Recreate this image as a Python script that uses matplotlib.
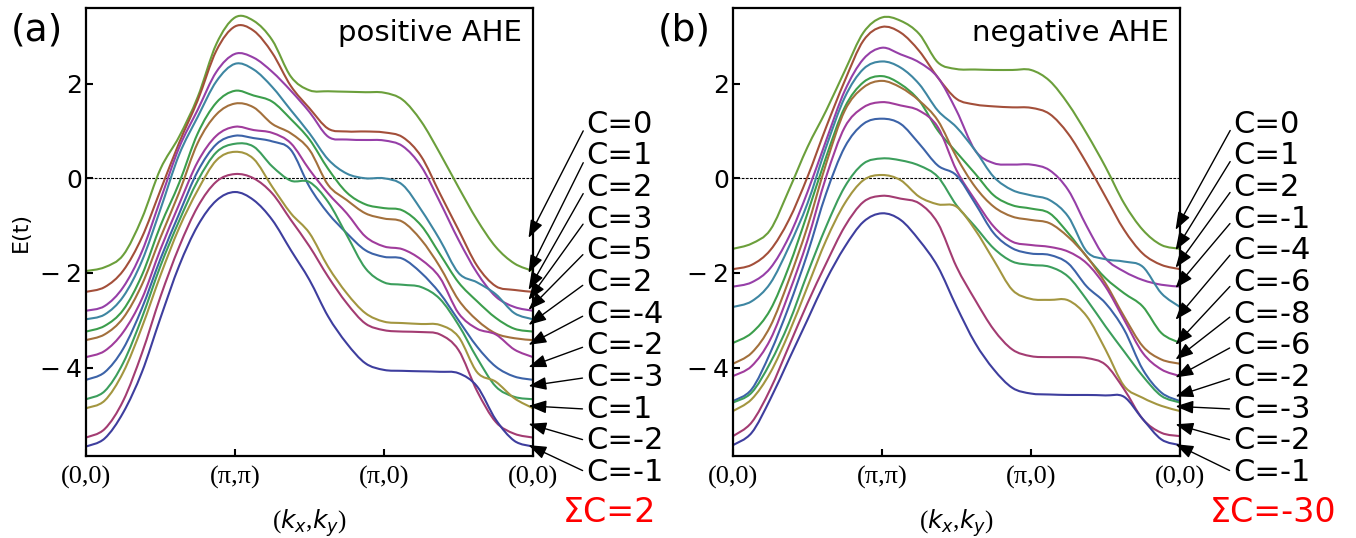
import matplotlib
matplotlib.use("Agg")
import matplotlib.pyplot as plt
from matplotlib.patches import PathPatch
from matplotlib.path import Path

# k-path sample points: (0,0) -> (pi,pi) -> (pi,0) -> (0,0), one unit per segment
K_GRID = [0.0, 0.125, 0.25, 0.375, 0.5, 0.625, 0.75, 0.875,
          1.0, 1.125, 1.25, 1.375, 1.5, 1.625, 1.75, 1.875,
          2.0, 2.125, 2.25, 2.375, 2.5, 2.625, 2.75, 2.875, 3.0]
K_TICKS = [0, 1, 2, 3]
K_LABELS = ["(0,0)", "(\u03c0,\u03c0)", "(\u03c0,0)", "(0,0)"]
E_TICKS = [-4, -2, 0, 2]
E_LABELS = ["\u2212\u20094", "\u2212\u20092", "0", "2"]

BAND_COLORS = ["#6b9f3b", "#a34f3a", "#963fa8", "#3e86a2", "#3c9e4c", "#a3703c",
               "#a03c9c", "#3c63a8", "#3c9e5c", "#a39640", "#a33c72", "#3e3e9e"]

# band energies (units of t), top band first
BANDS_POS = [
    [-1.96, -1.88, -1.62, -0.85, 0.20, 0.88, 1.72, 2.84, 3.40, 3.33, 2.92, 2.15, 1.86,
     1.84, 1.83, 1.82, 1.81, 1.66, 1.20, 0.53, -0.19, -0.88, -1.45, -1.80, -1.96],
    [-2.40, -2.30, -1.95, -1.25, -0.25, 0.75, 1.65, 2.70, 3.21, 3.12, 2.65, 1.95, 1.48,
     1.05, 0.99, 0.99, 0.97, 0.87, 0.46, -0.32, -1.09, -1.85, -2.28, -2.36, -2.40],
    [-2.80, -2.70, -2.30, -1.55, -0.45, 0.65, 1.45, 2.25, 2.63, 2.55, 2.25, 1.85, 1.40,
     0.88, 0.82, 0.81, 0.80, 0.68, 0.25, -0.50, -1.30, -2.00, -2.50, -2.72, -2.80],
    [-2.98, -2.88, -2.50, -1.75, -0.65, 0.50, 1.30, 2.05, 2.42, 2.30, 1.93, 1.44, 0.95,
     0.40, 0.10, 0.00, 0.00, -0.14, -0.67, -1.30, -2.00, -2.20, -2.45, -2.85, -2.98],
    [-3.24, -3.12, -2.78, -2.05, -1.00, -0.10, 0.95, 1.60, 1.85, 1.75, 1.62, 1.25, 0.82,
     0.20, -0.30, -0.55, -0.63, -0.68, -1.00, -1.60, -2.20, -2.60, -2.95, -3.18, -3.24],
    [-3.42, -3.30, -2.95, -2.25, -1.25, -0.30, 0.75, 1.35, 1.58, 1.50, 1.15, 0.95, 0.60,
     -0.14, -0.46, -0.74, -0.85, -0.92, -1.30, -1.87, -2.57, -3.00, -3.28, -3.38, -3.42],
    [-3.78, -3.65, -3.25, -2.55, -1.50, -0.55, 0.35, 0.90, 1.09, 1.02, 0.96, 0.74, 0.18,
     -0.32, -0.74, -1.23, -1.44, -1.50, -1.72, -2.10, -2.85, -3.18, -3.30, -3.62, -3.78],
    [-4.26, -4.10, -3.60, -2.75, -1.70, -0.75, 0.15, 0.72, 0.90, 0.85, 0.78, 0.60, -0.18,
     -0.74, -1.16, -1.52, -1.66, -1.70, -2.00, -2.43, -3.00, -3.56, -3.98, -4.19, -4.26],
    [-4.67, -4.50, -3.90, -2.95, -1.85, -0.90, -0.05, 0.55, 0.73, 0.67, 0.25, -0.05, -0.08,
     -0.50, -1.20, -1.90, -2.20, -2.25, -2.30, -2.55, -3.10, -3.80, -4.40, -4.62, -4.67],
    [-4.86, -4.70, -4.10, -3.15, -2.05, -1.05, -0.25, 0.38, 0.56, 0.41, -0.18, -0.74, -1.16,
     -1.87, -2.43, -2.85, -3.03, -3.06, -3.08, -3.10, -3.35, -4.10, -4.30, -4.65, -4.86],
    [-5.48, -5.30, -4.70, -3.70, -2.50, -1.45, -0.60, -0.07, 0.09, 0.00, -0.32, -0.88, -1.44,
     -2.08, -2.64, -3.07, -3.21, -3.24, -3.25, -3.30, -3.63, -4.50, -5.15, -5.40, -5.48],
    [-5.67, -5.50, -4.95, -4.10, -2.95, -1.85, -1.00, -0.47, -0.29, -0.46, -0.88, -1.52, -2.15,
     -2.92, -3.49, -3.91, -4.05, -4.07, -4.08, -4.09, -4.12, -4.40, -5.10, -5.55, -5.67],
]

BANDS_NEG = [
    [-1.49, -1.38, -1.09, -0.25, 0.66, 1.43, 2.27, 3.08, 3.40, 3.33, 3.05, 2.45, 2.31,
     2.30, 2.29, 2.29, 2.29, 2.06, 1.57, 0.94, 0.24, -0.53, -1.09, -1.41, -1.49],
    [-1.92, -1.83, -1.52, -0.88, 0.03, 1.08, 2.06, 2.91, 3.20, 3.08, 2.69, 2.13, 1.68,
     1.56, 1.52, 1.50, 1.49, 1.36, 0.94, 0.31, -0.39, -1.09, -1.59, -1.83, -1.92],
    [-2.29, -2.20, -1.90, -1.24, -0.29, 0.80, 1.85, 2.52, 2.76, 2.62, 2.45, 2.13, 1.43,
     0.59, 0.32, 0.29, 0.29, 0.17, -0.25, -1.02, -1.69, -1.97, -2.15, -2.25, -2.29],
    [-2.72, -2.60, -2.22, -1.45, -0.53, 0.66, 1.71, 2.31, 2.47, 2.34, 1.99, 1.43, 1.08,
     0.59, 0.03, -0.25, -0.36, -0.46, -0.81, -1.55, -1.71, -1.76, -1.87, -2.43, -2.72],
    [-3.48, -3.27, -2.78, -1.87, -0.74, 0.45, 1.50, 2.03, 2.16, 1.99, 1.64, 1.01, 0.55,
     0.10, -0.36, -0.57, -0.64, -0.74, -1.16, -1.66, -2.11, -2.43, -2.71, -3.27, -3.48],
    [-3.92, -3.69, -3.13, -2.15, -1.02, 0.31, 1.43, 1.92, 2.06, 1.92, 1.64, 1.22, 0.45,
     -0.18, -0.60, -0.81, -0.88, -0.95, -1.24, -1.66, -2.22, -2.92, -3.55, -3.83, -3.92],
    [-4.18, -3.97, -3.41, -2.43, -1.31, 0.03, 1.08, 1.50, 1.61, 1.54, 1.43, 1.08, 0.17,
     -0.46, -1.02, -1.34, -1.41, -1.45, -1.55, -1.80, -2.29, -2.99, -3.69, -4.04, -4.18],
    [-4.71, -4.46, -3.69, -2.71, -1.59, -0.32, 0.66, 1.15, 1.26, 1.15, 0.73, 0.27, 0.06,
     -0.53, -1.16, -1.48, -1.59, -1.62, -1.80, -2.29, -2.64, -3.20, -4.04, -4.53, -4.71],
    [-4.74, -4.53, -3.90, -3.06, -2.01, -1.02, -0.18, 0.31, 0.42, 0.38, 0.27, 0.03, -0.57,
     -1.02, -1.48, -1.76, -1.83, -1.87, -2.08, -2.57, -3.13, -3.66, -4.18, -4.60, -4.74],
    [-4.92, -4.67, -4.11, -3.27, -2.29, -1.31, -0.53, -0.04, 0.07, -0.04, -0.39, -0.55, -0.60,
     -1.09, -1.73, -2.36, -2.55, -2.57, -2.58, -2.92, -3.62, -4.39, -4.64, -4.81, -4.92],
    [-5.45, -5.16, -4.46, -3.55, -2.64, -1.80, -1.02, -0.50, -0.37, -0.43, -0.53, -0.95, -1.87,
     -2.57, -3.20, -3.62, -3.76, -3.78, -3.78, -3.80, -3.94, -4.46, -5.09, -5.38, -5.45],
    [-5.64, -5.38, -4.67, -3.83, -2.99, -2.15, -1.45, -0.92, -0.74, -0.88, -1.31, -1.87, -2.71,
     -3.48, -4.04, -4.43, -4.55, -4.57, -4.58, -4.58, -4.59, -4.62, -5.09, -5.52, -5.64],
]

CHERN_POS = [0, 1, 2, 3, 5, 2, -4, -2, -3, 1, -2, -1]
CHERN_NEG = [0, 1, 2, -1, -4, -6, -8, -6, -2, -3, -2, -1]

# energies where the label arrows end on the right edge
TIPS_POS = [-1.26, -2.00, -2.36, -2.57, -2.78, -3.10, -3.52, -3.99, -4.39, -4.81, -5.19, -5.64]
TIPS_NEG = [-1.09, -1.52, -1.89, -2.32, -2.99, -3.52, -3.83, -4.21, -4.61, -4.82, -5.20, -5.62]

W, H = 1356, 538
fig = plt.figure(figsize=(W / 100, H / 100), dpi=100)

AX_W, AX_H = 447, 448
AX_TOP = 8


def smooth_path(xs, ys):
    # Bezier segments through the read-off points (Catmull-Rom tangents)
    n = len(xs)
    verts = [(xs[0], ys[0])]
    codes = [Path.MOVETO]
    for i in range(n - 1):
        i0, i2, i3 = max(i - 1, 0), i + 1, min(i + 2, n - 1)
        c1 = (xs[i] + (xs[i2] - xs[i0]) / 6, ys[i] + (ys[i2] - ys[i0]) / 6)
        c2 = (xs[i2] - (xs[i3] - xs[i]) / 6, ys[i2] - (ys[i3] - ys[i]) / 6)
        verts += [c1, c2, (xs[i2], ys[i2])]
        codes += [Path.CURVE4] * 3
    return Path(verts, codes)


def draw_panel(left_px, bands, chern, tips, tag, title, ylabel=None):
    ax = fig.add_axes([left_px / W, (H - AX_TOP - AX_H) / H, AX_W / W, AX_H / H])
    for band, color in zip(bands, BAND_COLORS):
        ax.add_patch(PathPatch(smooth_path(K_GRID, band), fill=False,
                               edgecolor=color, lw=1.5, capstyle="round"))
    ax.axhline(0, color="k", lw=0.8, ls=(0, (2.5, 1.2)), zorder=0)
    ax.set_xlim(0, 3)
    ax.set_ylim(-5.87, 3.6)

    ax.set_xticks(K_TICKS)
    ax.set_xticklabels(K_LABELS, family="Liberation Serif", fontsize=19)
    ax.set_yticks(E_TICKS)
    ax.set_yticklabels(E_LABELS, fontsize=18)
    ax.tick_params(direction="in", length=5, width=1.5, top=False, right=False)
    ax.tick_params(axis="x", pad=7)
    ax.tick_params(axis="y", pad=3)
    for sp in ax.spines.values():
        sp.set_linewidth(1.6)

    ax.set_xlabel(r"($k_x$,$k_y$)", family="Liberation Serif", fontsize=18, va="center")
    ax.xaxis.set_label_coords(0.5, -0.15)
    if ylabel:
        ax.set_ylabel(ylabel, fontsize=16, va="center")
        ax.yaxis.set_label_coords(-0.145, 0.5)

    ax.text(0.975, 0.975, title, transform=ax.transAxes, ha="right", va="top", fontsize=21)
    fig.text((left_px - 49) / W, 1 - 31 / H, tag, ha="center", va="center", fontsize=27)

    for i, (c, tip) in enumerate(zip(chern, tips)):
        py = 124.2 + 31.66 * i
        ax.annotate(
            f"C={c}",
            xy=(2.97, tip),
            xycoords="data",
            xytext=(1.12, (AX_TOP + AX_H - py) / AX_H),
            textcoords="axes fraction",
            ha="left",
            va="center",
            fontsize=22,
            annotation_clip=False,
            arrowprops=dict(arrowstyle="-|>,head_length=0.6,head_width=0.22",
                            color="k", lw=1.0, mutation_scale=18,
                            shrinkA=1, shrinkB=0, relpos=(0, 0.5)),
        )
    ax.text(1.067, -0.125, f"\u03a3C={sum(chern)}", transform=ax.transAxes,
            ha="left", va="center", fontsize=24, color="red")
    return ax


draw_panel(86, BANDS_POS, CHERN_POS, TIPS_POS, "(a)", "positive AHE", ylabel="E(t)")
draw_panel(733, BANDS_NEG, CHERN_NEG, TIPS_NEG, "(b)", "negative AHE")

fig.savefig("out.png", dpi=100)
